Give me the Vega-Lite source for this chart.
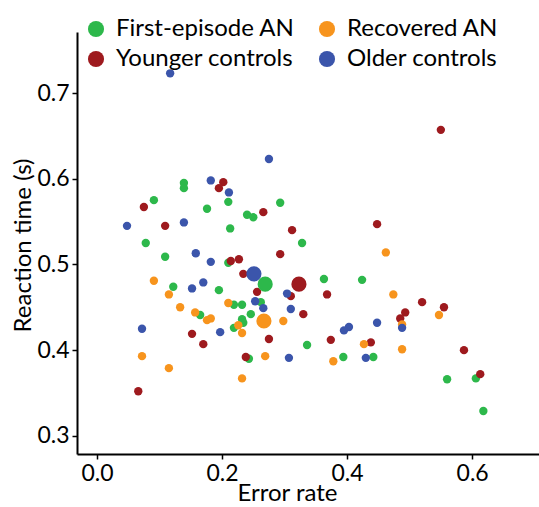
{
  "$schema": "https://vega.github.io/schema/vega-lite/v6.json",
  "width": 462,
  "height": 422,
  "autosize": {"type": "none"},
  "padding": {"left": 77, "top": 32, "right": 0, "bottom": 53},
  "background": "white",
  "config": {
    "view": {"stroke": null},
    "font": "Lato",
    "axis": {
      "grid": false,
      "domainColor": "black",
      "domainWidth": 2,
      "tickColor": "black",
      "tickWidth": 1.5,
      "tickSize": 5,
      "labelFont": "Lato",
      "labelFontSize": 23,
      "labelColor": "black",
      "labelPadding": 3,
      "titleFont": "Lato",
      "titleFontSize": 24,
      "titleFontWeight": "normal",
      "titleColor": "black"
    }
  },
  "data": {
    "values": [
      {"group": "First-episode AN", "kind": "participant", "error": 0.091, "rt": 0.575},
      {"group": "First-episode AN", "kind": "participant", "error": 0.139, "rt": 0.595},
      {"group": "First-episode AN", "kind": "participant", "error": 0.139, "rt": 0.589},
      {"group": "First-episode AN", "kind": "participant", "error": 0.210, "rt": 0.573},
      {"group": "First-episode AN", "kind": "participant", "error": 0.176, "rt": 0.565},
      {"group": "First-episode AN", "kind": "participant", "error": 0.240, "rt": 0.558},
      {"group": "First-episode AN", "kind": "participant", "error": 0.250, "rt": 0.555},
      {"group": "First-episode AN", "kind": "participant", "error": 0.293, "rt": 0.572},
      {"group": "First-episode AN", "kind": "participant", "error": 0.328, "rt": 0.525},
      {"group": "First-episode AN", "kind": "participant", "error": 0.078, "rt": 0.525},
      {"group": "First-episode AN", "kind": "participant", "error": 0.213, "rt": 0.542},
      {"group": "First-episode AN", "kind": "participant", "error": 0.109, "rt": 0.509},
      {"group": "First-episode AN", "kind": "participant", "error": 0.210, "rt": 0.502},
      {"group": "First-episode AN", "kind": "participant", "error": 0.122, "rt": 0.474},
      {"group": "First-episode AN", "kind": "participant", "error": 0.195, "rt": 0.470},
      {"group": "First-episode AN", "kind": "participant", "error": 0.165, "rt": 0.441},
      {"group": "First-episode AN", "kind": "participant", "error": 0.219, "rt": 0.453},
      {"group": "First-episode AN", "kind": "participant", "error": 0.232, "rt": 0.453},
      {"group": "First-episode AN", "kind": "participant", "error": 0.262, "rt": 0.456},
      {"group": "First-episode AN", "kind": "participant", "error": 0.246, "rt": 0.442},
      {"group": "First-episode AN", "kind": "participant", "error": 0.232, "rt": 0.436},
      {"group": "First-episode AN", "kind": "participant", "error": 0.234, "rt": 0.432},
      {"group": "First-episode AN", "kind": "participant", "error": 0.219, "rt": 0.426},
      {"group": "First-episode AN", "kind": "participant", "error": 0.243, "rt": 0.390},
      {"group": "First-episode AN", "kind": "participant", "error": 0.363, "rt": 0.483},
      {"group": "First-episode AN", "kind": "participant", "error": 0.424, "rt": 0.482},
      {"group": "First-episode AN", "kind": "participant", "error": 0.336, "rt": 0.406},
      {"group": "First-episode AN", "kind": "participant", "error": 0.394, "rt": 0.392},
      {"group": "First-episode AN", "kind": "participant", "error": 0.442, "rt": 0.392},
      {"group": "First-episode AN", "kind": "participant", "error": 0.560, "rt": 0.366},
      {"group": "First-episode AN", "kind": "participant", "error": 0.606, "rt": 0.367},
      {"group": "First-episode AN", "kind": "participant", "error": 0.618, "rt": 0.329},
      {"group": "Younger controls", "kind": "participant", "error": 0.075, "rt": 0.567},
      {"group": "Younger controls", "kind": "participant", "error": 0.202, "rt": 0.596},
      {"group": "Younger controls", "kind": "participant", "error": 0.195, "rt": 0.589},
      {"group": "Younger controls", "kind": "participant", "error": 0.266, "rt": 0.561},
      {"group": "Younger controls", "kind": "participant", "error": 0.109, "rt": 0.545},
      {"group": "Younger controls", "kind": "participant", "error": 0.214, "rt": 0.504},
      {"group": "Younger controls", "kind": "participant", "error": 0.227, "rt": 0.506},
      {"group": "Younger controls", "kind": "participant", "error": 0.550, "rt": 0.657},
      {"group": "Younger controls", "kind": "participant", "error": 0.312, "rt": 0.540},
      {"group": "Younger controls", "kind": "participant", "error": 0.448, "rt": 0.547},
      {"group": "Younger controls", "kind": "participant", "error": 0.293, "rt": 0.512},
      {"group": "Younger controls", "kind": "participant", "error": 0.234, "rt": 0.489},
      {"group": "Younger controls", "kind": "participant", "error": 0.256, "rt": 0.468},
      {"group": "Younger controls", "kind": "participant", "error": 0.152, "rt": 0.419},
      {"group": "Younger controls", "kind": "participant", "error": 0.170, "rt": 0.407},
      {"group": "Younger controls", "kind": "participant", "error": 0.066, "rt": 0.352},
      {"group": "Younger controls", "kind": "participant", "error": 0.275, "rt": 0.413},
      {"group": "Younger controls", "kind": "participant", "error": 0.238, "rt": 0.392},
      {"group": "Younger controls", "kind": "participant", "error": 0.368, "rt": 0.465},
      {"group": "Younger controls", "kind": "participant", "error": 0.310, "rt": 0.463},
      {"group": "Younger controls", "kind": "participant", "error": 0.330, "rt": 0.442},
      {"group": "Younger controls", "kind": "participant", "error": 0.520, "rt": 0.456},
      {"group": "Younger controls", "kind": "participant", "error": 0.555, "rt": 0.450},
      {"group": "Younger controls", "kind": "participant", "error": 0.493, "rt": 0.444},
      {"group": "Younger controls", "kind": "participant", "error": 0.485, "rt": 0.437},
      {"group": "Younger controls", "kind": "participant", "error": 0.374, "rt": 0.412},
      {"group": "Younger controls", "kind": "participant", "error": 0.438, "rt": 0.409},
      {"group": "Younger controls", "kind": "participant", "error": 0.587, "rt": 0.400},
      {"group": "Younger controls", "kind": "participant", "error": 0.613, "rt": 0.372},
      {"group": "Recovered AN", "kind": "participant", "error": 0.462, "rt": 0.514},
      {"group": "Recovered AN", "kind": "participant", "error": 0.091, "rt": 0.481},
      {"group": "Recovered AN", "kind": "participant", "error": 0.115, "rt": 0.465},
      {"group": "Recovered AN", "kind": "participant", "error": 0.072, "rt": 0.393},
      {"group": "Recovered AN", "kind": "participant", "error": 0.115, "rt": 0.379},
      {"group": "Recovered AN", "kind": "participant", "error": 0.133, "rt": 0.450},
      {"group": "Recovered AN", "kind": "participant", "error": 0.157, "rt": 0.444},
      {"group": "Recovered AN", "kind": "participant", "error": 0.176, "rt": 0.435},
      {"group": "Recovered AN", "kind": "participant", "error": 0.182, "rt": 0.437},
      {"group": "Recovered AN", "kind": "participant", "error": 0.210, "rt": 0.455},
      {"group": "Recovered AN", "kind": "participant", "error": 0.226, "rt": 0.429},
      {"group": "Recovered AN", "kind": "participant", "error": 0.232, "rt": 0.420},
      {"group": "Recovered AN", "kind": "participant", "error": 0.269, "rt": 0.393},
      {"group": "Recovered AN", "kind": "participant", "error": 0.232, "rt": 0.367},
      {"group": "Recovered AN", "kind": "participant", "error": 0.298, "rt": 0.434},
      {"group": "Recovered AN", "kind": "participant", "error": 0.474, "rt": 0.465},
      {"group": "Recovered AN", "kind": "participant", "error": 0.547, "rt": 0.441},
      {"group": "Recovered AN", "kind": "participant", "error": 0.488, "rt": 0.430},
      {"group": "Recovered AN", "kind": "participant", "error": 0.427, "rt": 0.407},
      {"group": "Recovered AN", "kind": "participant", "error": 0.488, "rt": 0.401},
      {"group": "Recovered AN", "kind": "participant", "error": 0.378, "rt": 0.387},
      {"group": "Older controls", "kind": "participant", "error": 0.117, "rt": 0.723},
      {"group": "Older controls", "kind": "participant", "error": 0.275, "rt": 0.623},
      {"group": "Older controls", "kind": "participant", "error": 0.048, "rt": 0.545},
      {"group": "Older controls", "kind": "participant", "error": 0.182, "rt": 0.598},
      {"group": "Older controls", "kind": "participant", "error": 0.211, "rt": 0.584},
      {"group": "Older controls", "kind": "participant", "error": 0.139, "rt": 0.549},
      {"group": "Older controls", "kind": "participant", "error": 0.158, "rt": 0.513},
      {"group": "Older controls", "kind": "participant", "error": 0.182, "rt": 0.503},
      {"group": "Older controls", "kind": "participant", "error": 0.152, "rt": 0.472},
      {"group": "Older controls", "kind": "participant", "error": 0.170, "rt": 0.479},
      {"group": "Older controls", "kind": "participant", "error": 0.072, "rt": 0.425},
      {"group": "Older controls", "kind": "participant", "error": 0.197, "rt": 0.421},
      {"group": "Older controls", "kind": "participant", "error": 0.253, "rt": 0.457},
      {"group": "Older controls", "kind": "participant", "error": 0.266, "rt": 0.449},
      {"group": "Older controls", "kind": "participant", "error": 0.304, "rt": 0.466},
      {"group": "Older controls", "kind": "participant", "error": 0.310, "rt": 0.448},
      {"group": "Older controls", "kind": "participant", "error": 0.448, "rt": 0.432},
      {"group": "Older controls", "kind": "participant", "error": 0.403, "rt": 0.427},
      {"group": "Older controls", "kind": "participant", "error": 0.395, "rt": 0.423},
      {"group": "Older controls", "kind": "participant", "error": 0.488, "rt": 0.426},
      {"group": "Older controls", "kind": "participant", "error": 0.307, "rt": 0.391},
      {"group": "Older controls", "kind": "participant", "error": 0.430, "rt": 0.391},
      {"group": "Older controls", "kind": "mean", "error": 0.251, "rt": 0.489},
      {"group": "First-episode AN", "kind": "mean", "error": 0.269, "rt": 0.477},
      {"group": "Younger controls", "kind": "mean", "error": 0.323, "rt": 0.477},
      {"group": "Recovered AN", "kind": "mean", "error": 0.267, "rt": 0.434}
    ]
  },
  "mark": {"type": "circle", "opacity": 1, "strokeWidth": 0},
  "encoding": {
    "x": {
      "field": "error",
      "type": "quantitative",
      "scale": {"domain": [-0.032, 0.707], "nice": false, "zero": false},
      "axis": {
        "values": [0, 0.2, 0.4, 0.6],
        "format": ".1f",
        "title": "Error rate",
        "titleX": 210,
        "titleY": 46,
        "titleBaseline": "alphabetic"
      }
    },
    "y": {
      "field": "rt",
      "type": "quantitative",
      "scale": {"domain": [0.2788, 0.7712], "nice": false, "zero": false},
      "axis": {
        "values": [0.3, 0.4, 0.5, 0.6, 0.7],
        "format": ".1f",
        "title": "Reaction time (s)",
        "titleX": -47,
        "titleY": 213,
        "titleBaseline": "alphabetic"
      }
    },
    "color": {
      "field": "group",
      "type": "nominal",
      "scale": {
        "domain": ["First-episode AN", "Younger controls", "Recovered AN", "Older controls"],
        "range": ["#2db84b", "#9e1a1e", "#f7941d", "#3b55ab"]
      },
      "legend": {
        "title": null,
        "orient": "none",
        "legendX": 7,
        "legendY": -15,
        "columns": 2,
        "symbolType": "circle",
        "symbolSize": 260,
        "symbolStrokeWidth": 0,
        "symbolOpacity": 1,
        "labelFont": "Lato",
        "labelFontSize": 24,
        "labelLimit": 400,
        "labelColor": "black",
        "labelOffset": 8,
        "rowPadding": 6,
        "columnPadding": 20,
        "padding": 0
      }
    },
    "size": {
      "field": "kind",
      "type": "nominal",
      "scale": {"domain": ["participant", "mean"], "range": [70, 230]},
      "legend": null
    }
  }
}
